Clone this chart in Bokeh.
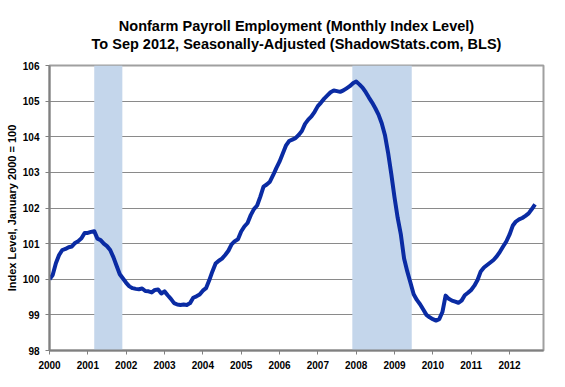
from bokeh.plotting import figure
from bokeh.models import FixedTicker, Range1d, Title
from bokeh.embed import file_html
from bokeh.resources import INLINE

# Monthly index level, Jan 2000 = 100, Jan 2000 .. Sep 2012
start_year = 2000
index_level = [
    100.00, 100.12, 100.45, 100.68, 100.82, 100.85, 100.90, 100.92, 101.02, 101.07, 101.15, 101.30,  # 2000
    101.30, 101.33, 101.35, 101.14, 101.10, 101.00, 100.93, 100.82, 100.62, 100.38, 100.14, 100.02,  # 2001
    99.90, 99.80, 99.75, 99.73, 99.72, 99.74, 99.67, 99.66, 99.63, 99.70, 99.71, 99.60,  # 2002
    99.66, 99.55, 99.45, 99.33, 99.29, 99.28, 99.29, 99.28, 99.33, 99.48, 99.52, 99.57,  # 2003
    99.68, 99.75, 99.97, 100.22, 100.44, 100.52, 100.58, 100.68, 100.80, 100.98, 101.07, 101.12,  # 2004
    101.34, 101.48, 101.58, 101.80, 101.97, 102.07, 102.32, 102.60, 102.66, 102.74, 102.92, 103.12,  # 2005
    103.30, 103.52, 103.75, 103.88, 103.92, 103.96, 104.05, 104.16, 104.36, 104.48, 104.57, 104.70,  # 2006
    104.86, 104.96, 105.07, 105.16, 105.25, 105.30, 105.28, 105.26, 105.30, 105.36, 105.42, 105.50,  # 2007
    105.55, 105.47, 105.38, 105.25, 105.10, 104.96, 104.80, 104.62, 104.38, 104.05, 103.55, 102.95,  # 2008
    102.30, 101.72, 101.25, 100.58, 100.22, 99.90, 99.58, 99.42, 99.30, 99.15, 99.00, 98.93,  # 2009
    98.88, 98.84, 98.88, 99.08, 99.54, 99.45, 99.40, 99.37, 99.34, 99.40, 99.55, 99.62,  # 2010
    99.70, 99.82, 99.98, 100.22, 100.33, 100.40, 100.47, 100.54, 100.64, 100.77, 100.92, 101.06,  # 2011
    101.25, 101.50, 101.62, 101.68, 101.72, 101.78, 101.85, 101.97, 102.10,  # 2012 (to Sep)
]
month_x = [start_year + i / 12.0 for i in range(len(index_level))]

# Recessions (decimal years)
recession_start = [2001.167, 2007.90]
recession_end = [2001.90, 2009.45]

year_ticks = list(range(2000, 2013))
y_ticks = [98, 99, 100, 101, 102, 103, 104, 105, 106]
y_min, y_max = 98, 106

title_line1 = "Nonfarm Payroll Employment (Monthly Index Level)"
title_line2 = "To Sep 2012, Seasonally-Adjusted (ShadowStats.com, BLS)"

FONT = "Liberation Sans"

p = figure(width=565, height=387, output_backend="svg", toolbar_location=None,
           x_range=Range1d(2000, 2012.887), y_range=Range1d(y_min, y_max),
           min_border_left=49, min_border_right=22, min_border_top=65, min_border_bottom=37)

# spacer between the plot and the title lines
p.add_layout(Title(text=" ", text_font_size="1px", standoff=11, align="center"), "above")
p.add_layout(Title(text=title_line2, align="center", text_font=FONT, text_font_size="14.5px",
                   text_font_style="bold", text_color="black", offset=0, standoff=0), "above")
p.add_layout(Title(text=title_line1, align="center", text_font=FONT, text_font_size="14.5px",
                   text_font_style="bold", text_color="black", offset=0, standoff=0), "above")

p.quad(left=recession_start, right=recession_end, bottom=y_min, top=y_max,
       fill_color="#c4d6eb", line_color=None)

p.line(month_x, index_level, line_color="#0a2ba3", line_width=4, line_join="round")

p.xaxis.ticker = FixedTicker(ticks=year_ticks)
p.yaxis.ticker = FixedTicker(ticks=y_ticks)
p.xaxis.minor_tick_line_color = None
p.yaxis.minor_tick_line_color = None
for ax in (p.xaxis, p.yaxis):
    ax.axis_line_color = "#808080"
    ax.axis_line_width = 2
    ax.major_tick_line_color = "#808080"
    ax.major_tick_in = 0
    ax.major_tick_out = 4
    ax.major_label_text_font = FONT
    ax.major_label_text_font_size = "10px"
    ax.major_label_text_font_style = "bold"
    ax.major_label_text_color = "black"
p.xaxis.major_label_standoff = 6
p.yaxis.major_label_standoff = 6

p.yaxis.axis_label = "Index Level, January 2000 = 100"
p.yaxis.axis_label_text_font = FONT
p.yaxis.axis_label_text_font_size = "11px"
p.yaxis.axis_label_text_font_style = "bold"
p.yaxis.axis_label_text_color = "black"
p.yaxis.axis_label_standoff = 2

p.xgrid.grid_line_color = None
p.ygrid.ticker = FixedTicker(ticks=y_ticks)
p.ygrid.grid_line_color = "#8a8a8a"
p.ygrid.grid_line_width = 1

p.outline_line_color = "#a0a0a0"
p.outline_line_width = 2
p.background_fill_color = "white"
p.border_fill_color = "white"

open("out.html", "w").write(file_html(p, INLINE))
